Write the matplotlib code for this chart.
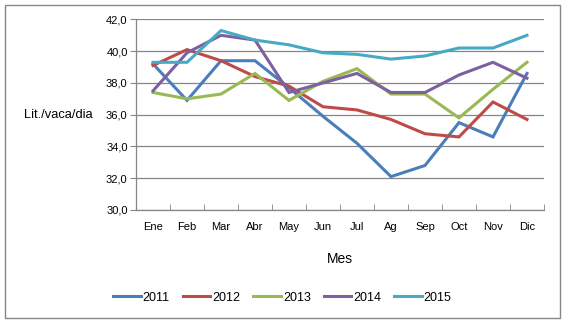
import numpy as np
import matplotlib.pyplot as plt
from matplotlib.patches import Rectangle

# Monthly milk yield per cow (litres/cow/day)
meses = ['Ene', 'Feb', 'Mar', 'Abr', 'May', 'Jun', 'Jul', 'Ag', 'Sep', 'Oct', 'Nov', 'Dic']
anios = ['2011', '2012', '2013', '2014', '2015']
y2011 = [39.2, 36.9, 39.4, 39.4, 37.7, 35.9, 34.2, 32.1, 32.8, 35.5, 34.6, 38.6]
y2012 = [39.1, 40.1, 39.4, 38.4, 37.8, 36.5, 36.3, 35.7, 34.8, 34.6, 36.8, 35.7]
y2013 = [37.4, 37.0, 37.3, 38.6, 36.9, 38.1, 38.9, 37.3, 37.3, 35.8, 37.6, 39.3]
y2014 = [37.5, 39.9, 41.0, 40.7, 37.4, 38.0, 38.6, 37.4, 37.4, 38.5, 39.3, 38.3]
y2015 = [39.3, 39.3, 41.3, 40.7, 40.4, 39.9, 39.8, 39.5, 39.7, 40.2, 40.2, 41.0]
series = [y2011, y2012, y2013, y2014, y2015]
colores = ['#4A7EBB', '#BE4B48', '#98B954', '#7D60A0', '#46AAC5']

plt.rcParams['font.family'] = ['Liberation Sans', 'DejaVu Sans']

fig = plt.figure(figsize=(5.65, 3.24), dpi=100)
fig.patches.append(Rectangle((0.009, 0.018), 0.982, 0.966, transform=fig.transFigure,
                             fill=False, edgecolor='#868686', linewidth=1.0))

ax = fig.add_axes([0.2407, 0.352, 0.7221, 0.588])
x = np.arange(len(meses))
for anio, vals, c in zip(anios, series, colores):
    ax.plot(x, vals, color=c, linewidth=2.2, label=anio, solid_joinstyle='miter')

ax.set_xlim(-0.5, 11.5)
ax.set_ylim(30, 42)
ax.set_yticks(np.arange(30, 42.1, 2))
ax.set_yticklabels([f'{v:.1f}'.replace('.', ',') for v in np.arange(30, 42.1, 2)])
ax.set_xticks(x)
ax.set_xticklabels(meses)
ax.set_xticks(np.arange(-0.5, 12, 1), minor=True)
ax.tick_params(axis='x', which='major', length=0, pad=9, labelsize=8)
ax.tick_params(axis='x', which='minor', length=4, direction='in', color='#868686')
ax.tick_params(axis='y', length=4, direction='out', color='#868686', labelsize=8, pad=2)

ax.grid(axis='y', color='#868686', linewidth=0.9)
ax.set_axisbelow(True)
for s in ['top', 'right']:
    ax.spines[s].set_visible(False)
for s in ['left', 'bottom']:
    ax.spines[s].set_color('#868686')
    ax.spines[s].set_linewidth(0.9)

ax.set_xlabel('Mes', fontsize=10, labelpad=14)
fig.text(0.0425, 0.645, 'Lit./vaca/dia', fontsize=9.3, va='center', ha='left')

ax.legend(loc='center', bbox_to_anchor=(0.359, -0.461), ncol=5, frameon=False,
          fontsize=9, handlelength=2.2, handletextpad=0.15, columnspacing=1.05)

fig.savefig('out.png', dpi=100)
